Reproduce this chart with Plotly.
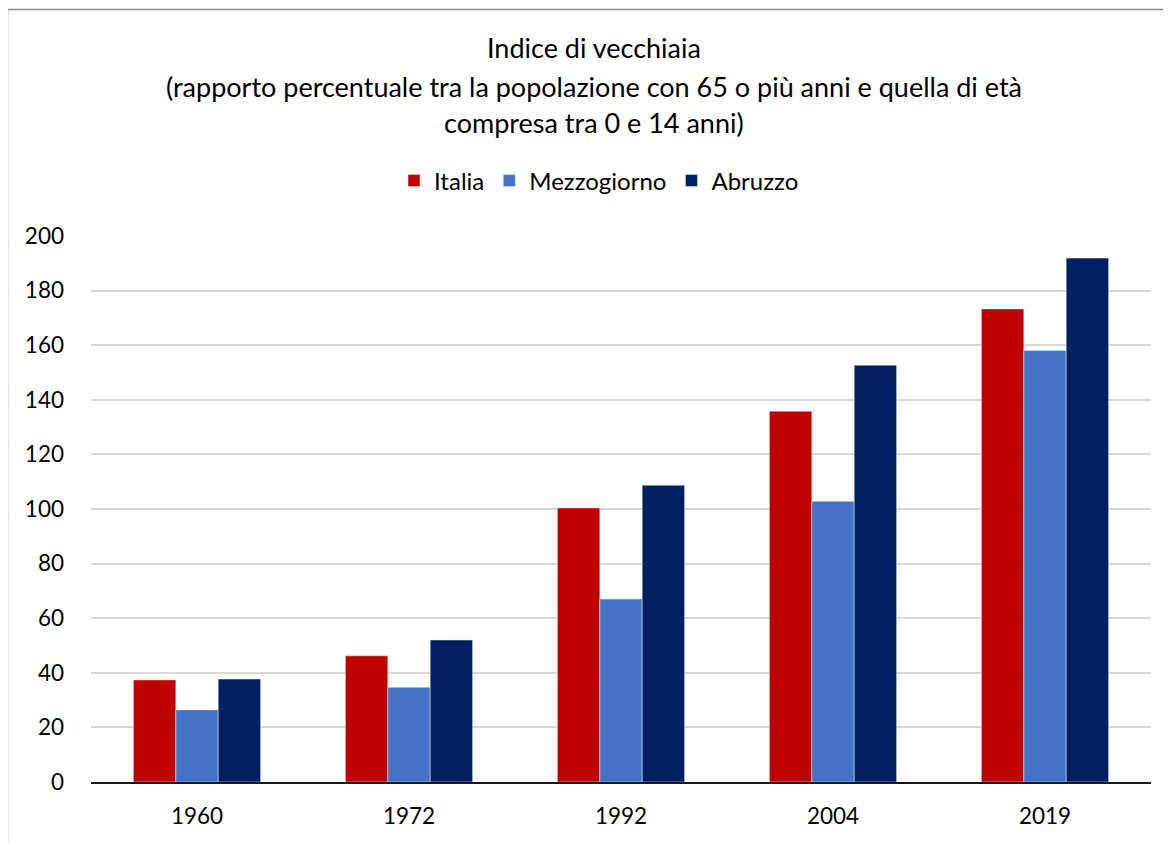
import plotly.graph_objects as go

years = ["1960", "1972", "1992", "2004", "2019"]
italia = [37.4, 46.2, 100.4, 135.8, 173.3]
mezzogiorno = [26.4, 34.7, 67.0, 102.8, 158.1]
abruzzo = [37.7, 52.0, 108.7, 152.7, 191.9]
y_ticks = [0, 20, 40, 60, 80, 100, 120, 140, 160, 180, 200]

title_lines = [
    "Indice di vecchiaia",
    "(rapporto percentuale tra la popolazione con 65 o più anni e quella di età",
    "compresa tra 0 e 14 anni)",
]

FONT = "Lato"
OFF = 8  # page body margin
W, H = 1171, 843
# target page pixels of plot area
PX_L, PX_R, PX_T, PX_B = 91, 1151, 236, 782
L = PX_L - OFF
T = PX_T - OFF
R = W - (PX_R - OFF)
B = H - (PX_B - OFF)
plot_w = PX_R - PX_L
plot_h = PX_B - PX_T


def px_x(px):
    return (px - PX_L) / plot_w


def px_y(py):
    return (PX_B - py) / plot_h


fig = go.Figure()
fig.add_trace(go.Bar(name="Italia", x=years, y=italia, marker_color="#C00000"))
fig.add_trace(go.Bar(name="Mezzogiorno", x=years, y=mezzogiorno, marker_color="#4472C4"))
fig.add_trace(go.Bar(name="Abruzzo", x=years, y=abruzzo, marker_color="#002060"))

annotations = []
for line, py in zip(title_lines, [48, 86, 122]):
    annotations.append(dict(
        text=line, xref="paper", yref="paper", x=px_x(594), y=px_y(py),
        xanchor="center", yanchor="middle", showarrow=False,
        font=dict(family=FONT, size=27, color="#000000"),
    ))

shapes = [
    dict(type="line", xref="paper", yref="paper",
         x0=px_x(0), x1=px_x(W + 20), y0=px_y(9.5), y1=px_y(9.5),
         line=dict(color="#898989", width=1.5)),
    dict(type="line", xref="paper", yref="paper",
         x0=px_x(7.5), x1=px_x(7.5), y0=px_y(9.5), y1=px_y(H + 20),
         line=dict(color="#898989", width=1.5)),
]

fig.update_layout(
    width=W, height=H,
    margin=dict(l=L, r=R, t=T, b=B, pad=0),
    paper_bgcolor="white", plot_bgcolor="white",
    barmode="group", bargap=0.4, bargroupgap=0,
    font=dict(family=FONT, size=22, color="#000000"),
    showlegend=True,
    legend=dict(
        orientation="h", xanchor="center", yanchor="middle",
        x=px_x(599), y=px_y(181),
        font=dict(family=FONT, size=24, color="#000000"),
        itemwidth=30, traceorder="normal",
    ),
    annotations=annotations,
    shapes=shapes,
    xaxis=dict(
        type="category", showgrid=False, showline=True,
        linecolor="#1a1a1a", linewidth=2, ticks="",
        tickfont=dict(family=FONT, size=22.5), ticklabelstandoff=13,
    ),
    yaxis=dict(
        range=[0, 200], tickvals=y_ticks, showgrid=True,
        gridcolor="#D9D9D9", gridwidth=1.5, zeroline=False, showline=False,
        ticks="", tickfont=dict(family=FONT, size=22.5), ticklabelstandoff=26,
    ),
)

fig.write_html("out.html")
